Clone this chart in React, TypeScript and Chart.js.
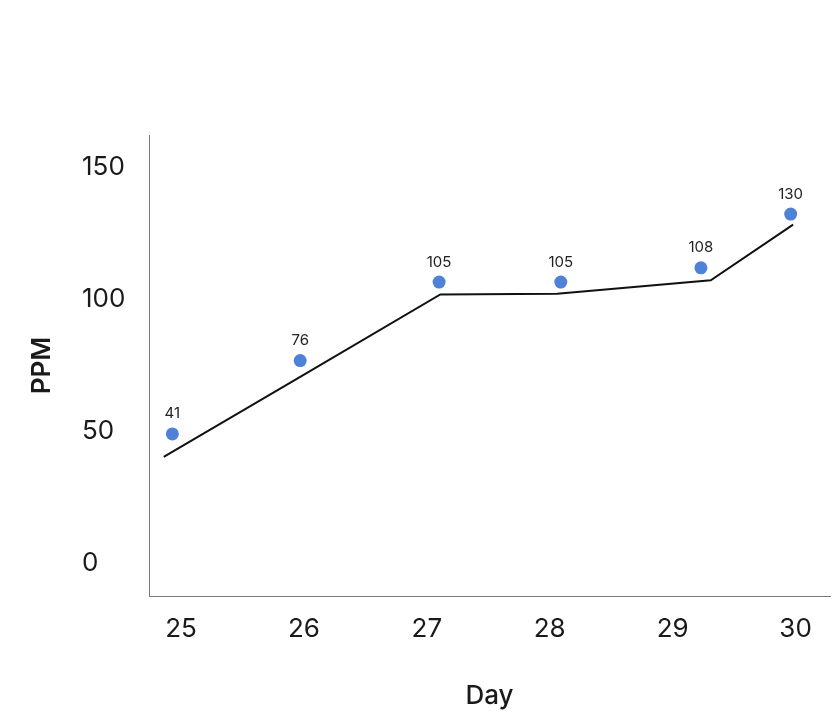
import React, { useEffect, useRef } from "react";
import { Chart, registerables } from "chart.js";

Chart.register(...registerables);

// Tick labels
const dayTicks = [25, 26, 27, 28, 29, 30];
const ppmTicks = [0, 50, 100, 150];

// Black trend line (as drawn)
const lineDays = [24.86, 25.97, 27.11, 28.06, 29.31, 29.98];
const lineValues = [40.3, 70.6, 101.9, 102.2, 107.3, 128.4];

// Blue markers (as drawn) and their value labels
const dotDays = [24.93, 25.97, 27.1, 28.09, 29.23, 29.96];
const dotValues = [49.0, 76.8, 106.6, 106.6, 112.0, 132.4];
const dotLabels = [41, 76, 105, 105, 108, 130];

const FONT = "Inter, 'Noto Sans', sans-serif";

const labelPlugin = {
  id: "dotLabels",
  afterDatasetsDraw(chart: any) {
    const meta = chart.getDatasetMeta(1);
    const ctx = chart.ctx;
    ctx.save();
    ctx.font = `400 15px ${FONT}`;
    ctx.fillStyle = "#222222";
    ctx.textAlign = "center";
    ctx.textBaseline = "middle";
    meta.data.forEach((pt: any, i: number) => {
      ctx.fillText(String(dotLabels[i]), pt.x, pt.y - 20);
    });
    ctx.restore();
  },
};

export default function App() {
  const ref = useRef<HTMLCanvasElement | null>(null);

  useEffect(() => {
    if (!ref.current) return;
    const chart = new Chart(ref.current, {
      type: "scatter",
      data: {
        datasets: [
          {
            type: "line",
            data: lineDays.map((d, i) => ({ x: d, y: lineValues[i] })),
            borderColor: "#111111",
            borderWidth: 2,
            pointRadius: 0,
            tension: 0,
            fill: false,
          },
          {
            type: "scatter",
            data: dotDays.map((d, i) => ({ x: d, y: dotValues[i] })),
            backgroundColor: "#5081d8",
            borderWidth: 0,
            pointRadius: 6.5,
          },
        ],
      } as any,
      options: {
        responsive: false,
        animation: false,
        events: [],
        layout: { padding: { left: 82, top: 135, right: 9, bottom: 0 } },
        plugins: {
          legend: { display: false },
          tooltip: { enabled: false },
        },
        scales: {
          x: {
            type: "linear",
            min: 24.74,
            max: 30.28,
            afterBuildTicks: (s: any) => {
              s.ticks = dayTicks.map((v) => ({ value: v }));
            },
            afterFit: (s: any) => {
              s.height = 120;
            },
            grid: { display: false, drawTicks: false },
            border: { display: true, color: "#7a7a7a", width: 1 },
            ticks: {
              padding: 18,
              color: "#1a1a1a",
              font: { family: FONT, size: 26, weight: "400" },
            },
            title: {
              display: true,
              text: "Day",
              color: "#1a1a1a",
              font: { family: FONT, size: 26, weight: "500" },
              padding: { top: 0, bottom: 4 },
            },
          },
          y: {
            type: "linear",
            min: -12.5,
            max: 162.4,
            afterBuildTicks: (s: any) => {
              s.ticks = ppmTicks.map((v) => ({ value: v }));
            },
            afterFit: (s: any) => {
              s.width = 67;
            },
            grid: { display: false, drawTicks: false },
            border: { display: true, color: "#7a7a7a", width: 1 },
            ticks: {
              crossAlign: "far",
              color: "#1a1a1a",
              font: { family: FONT, size: 26, weight: "400" },
            },
            title: {
              display: true,
              text: "PPM",
              color: "#1a1a1a",
              font: { family: FONT, size: 26, weight: "600" },
              padding: { top: -55.6, bottom: 0 },
            },
          },
        },
      } as any,
      plugins: [labelPlugin],
    });
    return () => chart.destroy();
  }, []);

  return (
    <div style={{ position: "absolute", left: 0, top: 0, width: 839, height: 716, background: "#fff" }}>
      <canvas ref={ref} width={839} height={716} style={{ display: "block" }} />
    </div>
  );
}
